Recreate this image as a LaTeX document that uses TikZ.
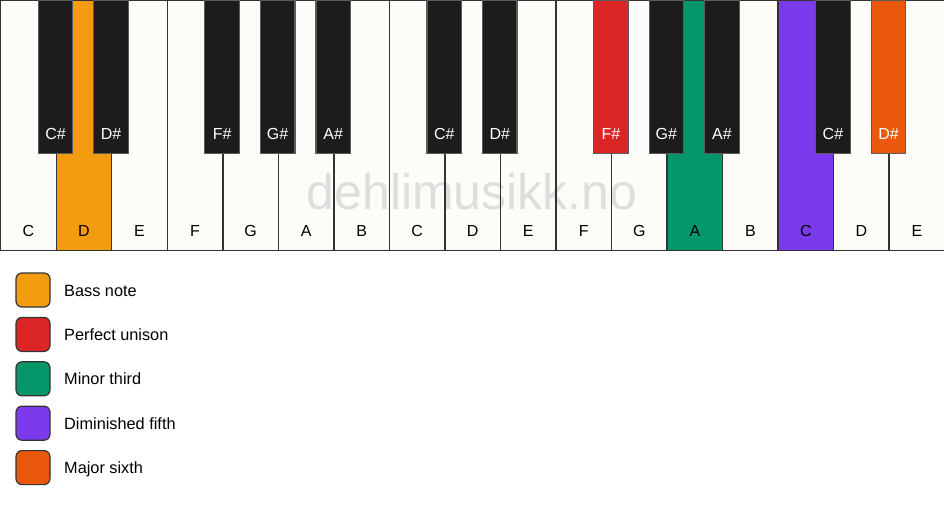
\documentclass[tikz,border=0pt]{standalone}
\usepackage{fontspec}
\setmainfont{Liberation Sans}
\usetikzlibrary{positioning}
\definecolor{keyline}{HTML}{333333}
\definecolor{ivory}{HTML}{FDFCF9}
\definecolor{ebony}{HTML}{1C1C1C}
\definecolor{bassc}{HTML}{F39C0F}
\definecolor{unisonc}{HTML}{DC2626}
\definecolor{thirdc}{HTML}{059669}
\definecolor{fifthc}{HTML}{7C3AED}
\definecolor{sixthc}{HTML}{EA580C}
\definecolor{markc}{HTML}{DFDEDC}

\begin{document}
\begin{tikzpicture}[
    x=1pt, y=-1pt,
    whitekey/.style={rectangle, draw=keyline, line width=1.4pt, minimum width=55.53pt, minimum height=250pt, anchor=north west, inner sep=0pt},
    blackkey/.style={rectangle, draw=keyline!80, line width=1.2pt, fill=ebony, minimum width=34.5pt, minimum height=153pt, anchor=north, inner sep=0pt},
    wlabel/.style={font=\fontsize{16}{16}\selectfont, text=black},
    blabel/.style={font=\fontsize{16}{16}\selectfont, text=white},
    swatch/.style={rectangle, rounded corners=6pt, draw=keyline, line width=1.2pt, minimum size=34pt, inner sep=0pt},
    legtext/.style={font=\fontsize{16.3}{16.3}\selectfont, anchor=base west, inner sep=0pt}
]
\useasboundingbox (0,0) rectangle (944,506);

% Keyboard background and watermark
\fill[ivory] (0,0) rectangle (944,250);
\node[font=\fontsize{50}{50}\selectfont, text=markc] (mark) at (472,192) {dehlimusikk.no};

% White keys
\foreach \i/\n/\c in {1/C/none, 2/D/bassc, 3/E/none, 4/F/none, 5/G/none, 6/A/none, 7/B/none,
                      8/C/none, 9/D/none, 10/E/none, 11/F/none, 12/G/none, 13/A/thirdc, 14/B/none,
                      15/C/fifthc, 16/D/none, 17/E/none}
{
    \node[whitekey, fill=\c] (w\i) at ({(\i-1)*55.53},0) {};
    \node[wlabel] (wl\i) at ([yshift=20pt]w\i.south) {\n};
}

% Black keys
\foreach \i/\n/\c in {1/C\#/ebony, 2/D\#/ebony, 4/F\#/ebony, 5/G\#/ebony, 6/A\#/ebony,
                      8/C\#/ebony, 9/D\#/ebony, 11/F\#/unisonc, 12/G\#/ebony, 13/A\#/ebony,
                      15/C\#/ebony, 16/D\#/sixthc}
{
    \node[blackkey, fill=\c] (b\i) at ({\i*55.53},0) {};
    \node[blabel] (bl\i) at ([yshift=20pt]b\i.south) {\n};
}

% Legend
\foreach \k/\c/\t in {1/bassc/Bass note, 2/unisonc/Perfect unison, 3/thirdc/Minor third,
                      4/fifthc/Diminished fifth, 5/sixthc/Major sixth}
{
    \node[swatch, fill=\c] (sw\k) at (33,{290+(\k-1)*44.4}) {};
    \node[legtext] (lt\k) at (64,{296+(\k-1)*44.4}) {\t};
}

\end{tikzpicture}
\end{document}
